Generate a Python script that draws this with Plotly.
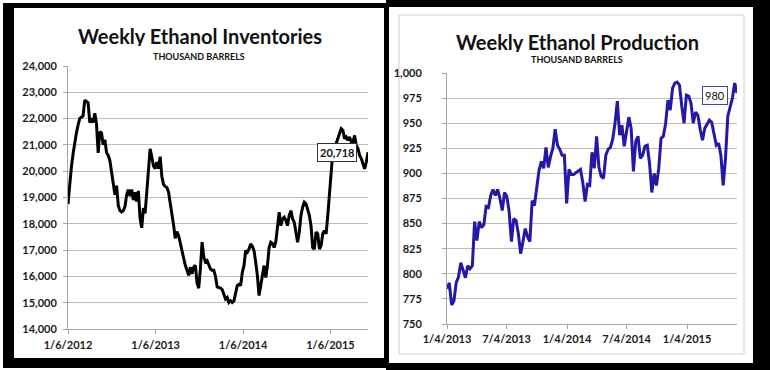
import pandas as pd
import plotly.graph_objects as go

# ---------------- data ----------------
inv_start = "2012-01-06"
inventories = [
    18750, 19500, 20150, 20650, 21100, 21450, 21750, 22000, 22050, 22100,
    22700, 22650, 22600, 21850, 21950, 21850, 22200, 21800, 20700, 21500,
    21450, 21000, 21200, 20700, 20600, 20400, 19970, 19500, 19100, 19450,
    18700, 18500, 18450, 18500, 18650, 19100, 19300, 19050, 19300, 18900,
    19200, 18850, 19250, 18200, 17850, 18600, 18400, 19200, 20100, 20850,
    20550, 20200, 20100, 20350, 20100, 20550, 19800, 19500, 19420, 19380,
    19200, 18800, 18500, 17950, 17450, 17700, 17550, 17300, 17000, 16700,
    16420, 16200, 16040, 16350, 16100, 16350, 16420, 15750, 15550, 16300,
    17300, 16750, 16550, 16600, 16400, 16280, 16230, 16230, 16000, 15600,
    15580, 15560, 15500, 15350, 15140, 15200, 15010, 15070, 15010, 15070,
    15380, 15650, 15700, 15650, 16150, 16410, 16980, 16920, 17040, 17230,
    17150, 16980, 16540, 16030, 15270, 15650, 16150, 16410, 15960, 16410,
    17100, 17300, 17250, 17100, 17320, 17810, 18440, 17930, 18190, 18250,
    18130, 17930, 18320, 18500, 18190, 18060, 17740, 17300, 17680, 18320,
    18630, 18820, 18760, 18570, 18320, 17930, 17100, 17040, 17680, 17620,
    17040, 17170, 17620, 17740, 17620, 18320, 19200, 20090, 20730, 20860,
    21050, 21170, 21360, 21620, 21560, 21240, 21300, 21170, 21300, 21110,
    21100, 21360, 20980, 20860, 20600, 20480, 20280, 20090, 20350, 20718,
]
inv_tickvals = ["2012-01-06", "2013-01-06", "2014-01-06", "2015-01-06"]
inv_ticktext = ["1/6/2012", "1/6/2013", "1/6/2014", "1/6/2015"]

prod_start = "2013-01-04"
production = [
    785, 791, 769, 773, 791, 797, 811, 803, 796, 808,
    805, 808, 852, 833, 852, 846, 849, 867, 866, 878,
    884, 878, 884, 875, 863, 881, 877, 862, 832, 855,
    853, 840, 820, 832, 845, 837, 832, 873, 868, 886,
    903, 912, 905, 926, 906, 917, 925, 944, 928, 924,
    918, 918, 870, 904, 899, 899, 901, 902, 904, 891,
    872, 889, 888,
    921, 905, 937, 906, 897, 895, 918, 924, 926, 934,
    950, 972, 938, 948, 927, 942, 956, 945, 902, 932,
    937, 915, 918, 927, 928, 910, 881, 900, 888, 905,
    935, 937, 950, 973, 963, 985, 990, 991, 988, 967,
    950, 978, 977, 970, 950, 961, 958, 944, 933, 945,
    949, 953, 951, 941, 928, 930, 918, 888, 915, 957,
    967, 975, 990, 980,
]
prod_tickvals = ["2013-01-04", "2013-07-04", "2014-01-04", "2014-07-04", "2015-01-04"]
prod_ticktext = ["1/4/2013", "7/4/2013", "1/4/2014", "7/4/2014", "1/4/2015"]

inv_dates = pd.date_range(inv_start, periods=len(inventories), freq="7D")
prod_dates = pd.date_range(prod_start, periods=len(production), freq="7D")

# ---------------- layout helpers ----------------
W, H = 770, 370
def px(x):
    return x / W
def py(y):
    return 1 - y / H

FONT = "Lato"
GRID = "#bdbdbd"
AXIS = "#a6a6a6"
BLUE = "#2418a6"

fig = go.Figure()
fig.add_trace(go.Scatter(x=inv_dates, y=inventories, mode="lines",
                         line=dict(color="#000000", width=3),
                         xaxis="x", yaxis="y", hoverinfo="skip"))
fig.add_trace(go.Scatter(x=prod_dates, y=production, mode="lines",
                         line=dict(color=BLUE, width=3),
                         xaxis="x2", yaxis="y2", hoverinfo="skip"))

tickfont = dict(family=FONT, size=11, color="#1a1a1a", weight="bold")

shapes = [
    # left panel frame
    dict(type="rect", xref="paper", yref="paper", x0=px(3), x1=px(388), y0=py(368), y1=py(3),
         fillcolor="#000000", line=dict(width=0), layer="below"),
    dict(type="rect", xref="paper", yref="paper", x0=px(14), x1=px(384), y0=py(358), y1=py(8),
         fillcolor="#ffffff", line=dict(width=0), layer="below"),
    # right panel frame
    dict(type="rect", xref="paper", yref="paper", x0=px(386), x1=px(770), y0=py(370), y1=py(0),
         fillcolor="#000000", line=dict(width=0), layer="below"),
    dict(type="rect", xref="paper", yref="paper", x0=px(389), x1=px(753), y0=py(363), y1=py(7),
         fillcolor="#ffffff", line=dict(width=0), layer="below"),
    dict(type="rect", xref="paper", yref="paper", x0=px(399), x1=px(744), y0=py(354), y1=py(15),
         fillcolor="rgba(0,0,0,0)", line=dict(width=1, color="#cfcfcf"), layer="below"),
]

annotations = [
    dict(text="Weekly Ethanol Inventories", xref="paper", yref="paper", x=px(200), y=py(36),
         showarrow=False, xanchor="center", yanchor="middle", height=20,
         font=dict(family=FONT, size=20, color="#111111", weight="bold")),
    dict(text="THOUSAND BARRELS", xref="paper", yref="paper", x=px(199), y=py(56),
         showarrow=False, xanchor="center", yanchor="middle", height=10,
         font=dict(family=FONT, size=9, color="#111111", weight="bold")),
    dict(text="Weekly Ethanol Production", xref="paper", yref="paper", x=px(577), y=py(42),
         showarrow=False, xanchor="center", yanchor="middle", height=20,
         font=dict(family=FONT, size=20, color="#111111", weight="bold")),
    dict(text="THOUSAND BARRELS", xref="paper", yref="paper", x=px(577), y=py(58.5),
         showarrow=False, xanchor="center", yanchor="middle", height=10,
         font=dict(family=FONT, size=9, color="#111111", weight="bold")),
    dict(text=f"{inventories[-1]:,}", xref="x", yref="y", x=inv_dates[-1], y=inventories[-1],
         showarrow=False, xanchor="right", yanchor="middle", xshift=-11,
         bgcolor="#ffffff", bordercolor="#333333", borderwidth=1, borderpad=2,
         font=dict(family=FONT, size=11, color="#111111", weight="bold")),
    dict(text=f"{production[-1]:,}", xref="x2", yref="y2", x=prod_dates[-1], y=production[-1],
         showarrow=False, xanchor="right", yanchor="middle", xshift=-9, yshift=-2,
         bgcolor="#ffffff", bordercolor="#4a44a8", borderwidth=1, borderpad=2,
         font=dict(family=FONT, size=11, color="#111111")),
]

common_axis = dict(showline=True, linecolor=AXIS, linewidth=1, ticks="outside",
                   ticklen=4, tickcolor=AXIS, tickfont=tickfont, automargin=False,
                   fixedrange=True, zeroline=False)

fig.update_layout(
    template="none",
    width=W, height=H,
    margin=dict(l=0, r=0, t=0, b=0, pad=0, autoexpand=False),
    paper_bgcolor="#ffffff",
    plot_bgcolor="rgba(0,0,0,0)",
    showlegend=False,
    shapes=shapes,
    annotations=annotations,
    xaxis=dict(domain=[px(68), px(368)], type="date",
               range=[inv_dates[0], inv_dates[-1]],
               tickvals=inv_tickvals, ticktext=inv_ticktext,
               showgrid=False, anchor="y", ticklabelstandoff=2, **common_axis),
    yaxis=dict(domain=[py(329), py(66)], range=[14000, 24000], dtick=1000,
               tickformat=",", showgrid=True, gridcolor=GRID, gridwidth=1,
               ticklabelstandoff=4, anchor="x", **common_axis),
    xaxis2=dict(domain=[px(447), px(737)], type="date",
                range=[prod_dates[0], prod_dates[-1]],
                tickvals=prod_tickvals, ticktext=prod_ticktext,
                showgrid=False, anchor="y2", ticklabelstandoff=1, **common_axis),
    yaxis2=dict(domain=[py(324), py(73)], range=[750, 1000], dtick=25,
                tickformat=",", showgrid=True, gridcolor=GRID, gridwidth=1,
                ticklabelstandoff=18, anchor="x2", **common_axis),
)

fig.write_html("out.html", config={"displayModeBar": False},
               post_script="document.body.style.margin='0';document.body.style.overflow='hidden';")
